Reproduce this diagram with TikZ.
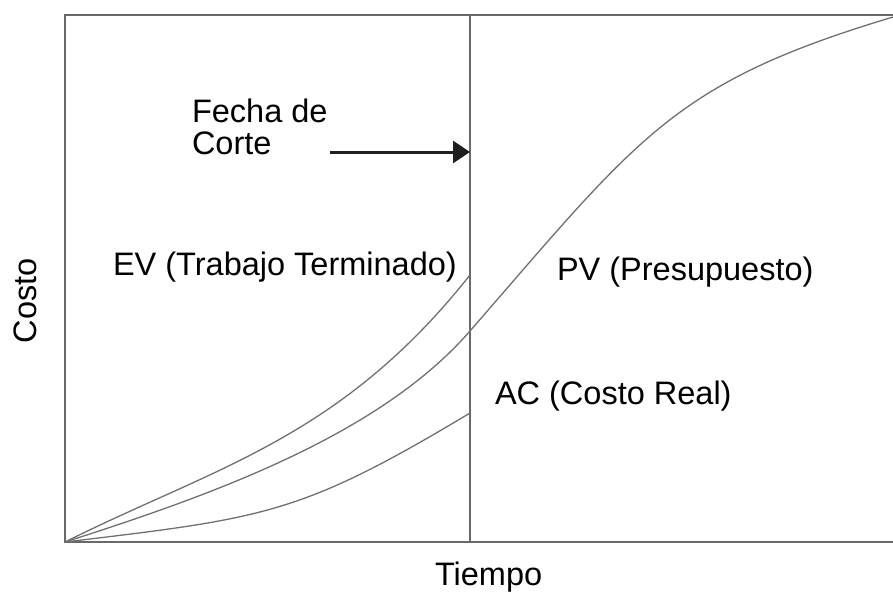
\documentclass[tikz,border=0pt]{standalone}
\usepackage{fontspec}
\setmainfont{Liberation Sans}
\usetikzlibrary{arrows.meta}
\definecolor{linegray}{RGB}{112,112,112}
\definecolor{framegray}{RGB}{105,105,105}
\begin{document}
\begin{tikzpicture}[x=1pt,y=-1pt,
  frame/.style={draw=framegray, line width=1.5pt},
  curve/.style={draw=linegray, line width=1.3pt},
  lbl/.style={inner sep=0pt, outer sep=0pt, text=black, font=\fontsize{32.5}{32}\selectfont},
  cutarrow/.style={draw=black!88, line width=3pt, -{Triangle[length=17pt,width=22pt]}}]
\useasboundingbox (0,0) rectangle (893,592);
% frame (open on the right)
\coordinate (tr) at (893,15);
\coordinate (tl) at (65,15);
\coordinate (bl) at (65,542);
\coordinate (br) at (893,542);
\coordinate (cuttop) at (470,15);
\coordinate (cutbot) at (470,542);
\draw[frame] (tr) -- (tl) -- (bl) -- (br);
\draw[frame] (cuttop) -- (cutbot);
% curves
\coordinate (ev end) at (470,275);
\coordinate (pv cut) at (470,331);
\coordinate (pv end) at (893,17);
\coordinate (ac end) at (470,413);
\draw[curve] (bl) .. controls (215,467) and (340,439) .. (ev end);
\draw[curve] (bl) .. controls (215,494) and (380,434.5) .. (pv cut)
                  .. controls (640,135.5) and (673,83) .. (pv end);
\draw[curve] (bl) .. controls (265,518) and (300,515) .. (ac end);
% labels
\node[lbl, anchor=north west, align=left] (fecha) at (192,98.5) {Fecha de\\Corte};
\node[lbl, anchor=base west] (ev) at (113,275) {EV (Trabajo Terminado)};
\node[lbl, anchor=base west] (pv) at (557,280) {PV (Presupuesto)};
\node[lbl, anchor=base west] (ac) at (495,404) {AC (Costo Real)};
\node[lbl, anchor=base west] (tiempo) at (435,585) {Tiempo};
\node[lbl, anchor=base, rotate=90] (costo) at (36,301) {Costo};
% arrow to the cut-off date line
\coordinate (arrstart) at (330,152);
\coordinate (arrend) at (470,152);
\draw[cutarrow] (arrstart) -- (arrend);
\end{tikzpicture}
\end{document}
